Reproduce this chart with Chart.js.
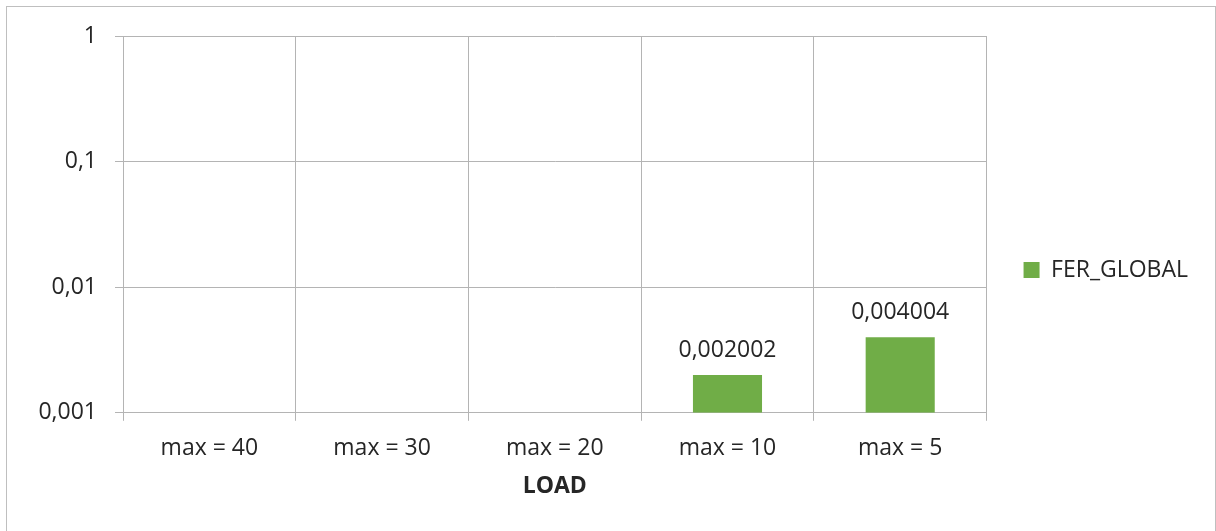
<!DOCTYPE html>
<html><head><meta charset="utf-8">
<script src="https://cdn.jsdelivr.net/npm/chart.js@4/dist/chart.umd.min.js"></script>
<style>
html,body{margin:0;padding:0;background:#fff;overflow:hidden;}
#frame{position:absolute;left:6px;top:6px;width:1208px;height:530px;border:1px solid #bfbfbf;background:#fff;}
#wrap{position:absolute;left:0;top:0;width:1208px;height:524px;}
</style></head><body>
<div id="frame"><div id="wrap"><canvas id="c"></canvas></div></div>
<script>
const categories = ['max = 40', 'max = 30', 'max = 20', 'max = 10', 'max = 5'];
const ferGlobal = [null, null, null, 0.002002, 0.004004];
const yTickValues = [0.001, 0.01, 0.1, 1];
const seriesName = 'FER_GLOBAL';
const axisTitle = 'LOAD';

const textColor = '#262626';
const gridColor = '#b4b4b4';
const barColor = '#70ad47';
const fontSize = 23;
const fmt = v => String(v).replace('.', ',');

Chart.defaults.font.family = '"Open Sans", sans-serif';
Chart.defaults.font.size = fontSize;
Chart.defaults.color = textColor;

const valueLabels = {
  id: 'valueLabels',
  afterDatasetsDraw(chart) {
    const ctx = chart.ctx;
    const meta = chart.getDatasetMeta(0);
    ctx.save();
    ctx.font = fontSize + 'px "Open Sans"';
    ctx.fillStyle = textColor;
    ctx.textAlign = 'center';
    ctx.textBaseline = 'alphabetic';
    meta.data.forEach((bar, i) => {
      const v = chart.data.datasets[0].data[i];
      if (v == null) return;
      ctx.fillText(fmt(v), bar.x, bar.y - 18);
    });
    ctx.restore();
  }
};

new Chart(document.getElementById('c'), {
  type: 'bar',
  data: {
    labels: categories,
    datasets: [{
      label: seriesName,
      data: ferGlobal,
      backgroundColor: barColor,
      borderWidth: 0,
      categoryPercentage: 1,
      barPercentage: 0.4
    }]
  },
  options: {
    responsive: true,
    maintainAspectRatio: false,
    animation: false,
    layout: { padding: { top: 29, bottom: 27, left: 0, right: 17 } },
    plugins: {
      tooltip: { enabled: false },
      legend: {
        position: 'right',
        labels: {
          boxWidth: 16, boxHeight: 16, padding: 37,
          color: textColor,
          font: { size: fontSize }
        }
      }
    },
    scales: {
      x: {
        offset: true,
        grid: { color: gridColor, lineWidth: 1, tickLength: 8, offset: true },
        border: { color: gridColor },
        ticks: { padding: 14, maxRotation: 0, autoSkip: false, color: textColor, font: { size: fontSize } },
        title: { display: true, text: axisTitle, color: textColor, font: { size: fontSize, weight: 'bold' }, padding: { top: -4, bottom: 4 } }
      },
      y: {
        type: 'logarithmic',
        min: 0.001,
        max: 1,
        afterBuildTicks: s => { s.ticks = yTickValues.map(v => ({ value: v })); },
        afterFit: s => { s.width = 116; s.paddingTop = 0; s.paddingBottom = 0; },
        grid: { color: gridColor, lineWidth: 1, tickLength: 8 },
        border: { color: gridColor },
        ticks: { padding: 18, color: textColor, font: { size: fontSize }, callback: v => fmt(v) }
      }
    }
  },
  plugins: [valueLabels]
});
</script>
</body></html>
